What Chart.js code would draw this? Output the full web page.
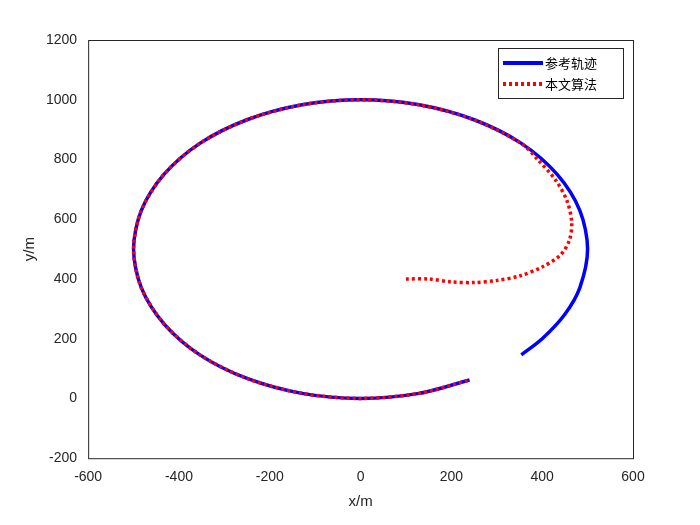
<!DOCTYPE html>
<html><head><meta charset="utf-8">
<script src="https://cdn.jsdelivr.net/npm/chart.js"></script>
<style>body{margin:0;background:#fff}</style>
</head><body>
<canvas id="c" width="700" height="525"></canvas>
<script>
// reference trajectory points
const refX = [354, 400, 450, 483, 500, 483, 433, 354, 250, 129, 0, -129, -250, -354, -433, -483, -500, -483, -433, -354, -250, -129, 0, 129, 240];
const refY = [146, 200, 282, 371, 500, 629, 750, 854, 933, 983, 1000, 983, 933, 854, 750, 629, 500, 371, 250, 146, 67, 17, 0, 17, 62];
// algorithm trajectory
const algX = [100, 150, 200, 250, 300, 350, 400, 440, 460, 465, 455, 430, 390, 354, 250, 129, 0, -129, -250, -354, -433, -483, -500, -483, -433, -354, -250, -129, 0, 129, 240];
const algY = [400, 400, 390, 388, 395, 410, 440, 480, 530, 590, 660, 730, 800, 854, 933, 983, 1000, 983, 933, 854, 750, 629, 500, 371, 250, 146, 67, 17, 0, 17, 62];
const names = ["参考轨迹", "本文算法"];

const pts = (xs, ys) => xs.map((x, i) => ({x: x, y: ys[i]}));
const font = "'Liberation Sans', Arial, sans-serif";

const frame = {
  id: "frame",
  afterDraw(chart) {
    const a = chart.chartArea, ctx = chart.ctx;
    ctx.save();
    ctx.strokeStyle = "#262626"; ctx.lineWidth = 1;
    ctx.strokeRect(a.left + 0.5, a.top + 0.5, a.right - a.left, a.bottom - a.top);
    // legend box
    const w = 125, h = 50, x0 = a.right - w - 10, y0 = a.top + 8;
    ctx.fillStyle = "#fff"; ctx.fillRect(x0, y0, w, h);
    ctx.strokeRect(x0 + 0.5, y0 + 0.5, w, h);
    ctx.lineWidth = 4;
    ctx.strokeStyle = "#0000ff"; ctx.beginPath(); ctx.moveTo(x0 + 5, y0 + 15); ctx.lineTo(x0 + 45, y0 + 15); ctx.stroke();
    ctx.strokeStyle = "#ff0000"; ctx.setLineDash([3, 3]); ctx.beginPath(); ctx.moveTo(x0 + 5, y0 + 36); ctx.lineTo(x0 + 45, y0 + 36); ctx.stroke();
    ctx.setLineDash([]);
    ctx.fillStyle = "#000"; ctx.font = "13px 'Noto Sans CJK SC'"; ctx.textBaseline = "middle";
    ctx.fillText(names[0], x0 + 47, y0 + 15);
    ctx.fillText(names[1], x0 + 47, y0 + 36);
    ctx.restore();
  }
};

new Chart("c", {
  type: "scatter",
  data: {
    datasets: [
      {label: names[0], data: pts(refX, refY), showLine: true, pointRadius: 0, borderColor: "#0000ff", borderWidth: 3.5, tension: 0.3, order: 2},
      {label: names[1], data: pts(algX, algY), showLine: true, pointRadius: 0, borderColor: "#ff0000", borderWidth: 3.5, borderDash: [3, 3], tension: 0.3, order: 1}
    ]
  },
  options: {
    responsive: false,
    devicePixelRatio: 1,
    animation: false,
    layout: {padding: {left: 17, right: 67, top: 40, bottom: 10}},
    plugins: {legend: {display: false}, tooltip: {enabled: false}},
    scales: {
      x: {min: -600, max: 600, ticks: {stepSize: 200, color: "#262626", font: {family: font, size: 14}, callback: v => v},
          grid: {display: false}, border: {display: false},
          title: {display: true, text: "x/m", color: "#262626", font: {family: font, size: 15}}},
      y: {min: -200, max: 1200, ticks: {stepSize: 200, color: "#262626", font: {family: font, size: 14}, callback: v => v},
          grid: {display: false}, border: {display: false},
          title: {display: true, text: "y/m", color: "#262626", font: {family: font, size: 15}}}
    }
  },
  plugins: [frame]
});
</script>
</body></html>
